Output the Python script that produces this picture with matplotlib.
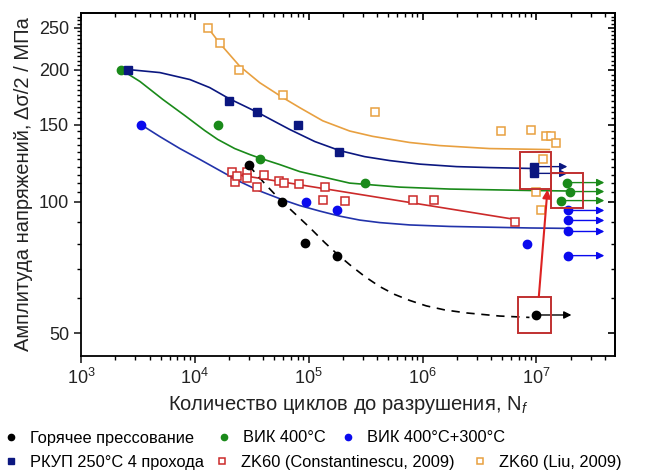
import matplotlib
matplotlib.use('Agg')
import matplotlib.pyplot as plt
from matplotlib.lines import Line2D
from matplotlib.patches import Rectangle
from matplotlib.ticker import FixedLocator, LogLocator, NullFormatter, FixedFormatter

plt.rcParams['font.family'] = ['Liberation Sans', 'DejaVu Sans']
plt.rcParams['mathtext.fontset'] = 'custom'
plt.rcParams['mathtext.rm'] = 'Liberation Sans'
plt.rcParams['mathtext.it'] = 'Liberation Sans:italic'
plt.rcParams['mathtext.sf'] = 'Liberation Sans'

# --- experimental points (cycles to failure, stress amplitude MPa) ---
hot_N = [2.96e4, 5.8e4, 9.2e4, 1.76e5]
hot_S = [121, 100, 80.5, 75.2]
hot_run_N = [1.0e7]
hot_run_S = [55]

vik_N = [2.24e3, 1.6e4, 3.7e4, 3.1e5]
vik_S = [200, 150, 125.4, 110.5]
vik_run_N = [1.87e7, 1.99e7, 1.66e7]
vik_run_S = [110.5, 105.4, 100.5]

vik300_N = [3.4e3, 9.5e4, 1.76e5, 8.3e6]
vik300_S = [150, 100, 95.4, 80.1]
vik300_run_N = [1.9e7, 1.9e7, 1.9e7, 1.9e7]
vik300_run_S = [95.4, 90.5, 85.4, 75.2]

ecap_N = [2.6e3, 2.0e4, 3.5e4, 8.0e4, 1.83e5]
ecap_S = [200, 170, 160.7, 150, 130]
ecap_run_N = [9.6e6, 9.6e6]
ecap_run_S = [120.2, 116]

const_N = [2.1e4, 2.25e4, 2.33e4, 2.86e4, 2.86e4, 3.5e4, 4.03e4, 5.46e4,
           6.03e4, 8.3e4, 1.38e5, 1.33e5, 2.07e5, 8.2e5, 1.25e6, 6.5e6]
const_S = [117, 111, 114.7, 117, 113.5, 108.2, 115.3, 111.7,
           110.5, 109.9, 108.2, 101, 100.5, 101, 101, 90]

liu_N = [1.3e4, 1.66e4, 2.43e4, 5.9e4, 3.8e5, 4.93e6, 9.04e6, 1.22e7,
         1.33e7, 1.5e7, 1.15e7, 1.0e7, 1.1e7]
liu_S = [250, 230, 200, 175, 160, 145, 146, 141,
         141, 136, 125, 105.4, 95.4]

# --- fitted curves ---
hot_fit_N = [2.98e4, 4.11e4, 5.57e4, 7.54e4, 1.02e5, 1.38e5, 1.76e5, 2.29e5, 3.10e5,
             4.20e5, 5.68e5, 7.69e5, 1.08e6, 1.56e6, 2.43e6, 4.74e6, 8.69e6]
hot_fit_S = [120.9, 109.9, 101.1, 93.9, 87.2, 80.6, 76.0, 71.7, 67.4,
             63.9, 61.3, 59.4, 57.7, 56.5, 55.6, 54.7, 54.3]

vik_fit_N = [2.24e3, 3.30e3, 5.24e3, 8.17e3, 1.22e4, 1.59e4, 2.24e4, 3.04e4, 3.72e4,
             5.57e4, 8.34e4, 1.53e5, 2.29e5, 6.28e5, 1.73e6, 8.69e6, 1.95e7]
vik_fit_S = [200.5, 188.2, 171.2, 157.3, 145.4, 138.7, 132.2, 128.1, 125.7,
             121.5, 117.1, 112.9, 110.2, 107.9, 106.8, 106.0, 105.7]

vik300_fit_N = [3.36e3, 4.93e3, 7.39e3, 1.11e4, 1.66e4, 2.48e4, 3.72e4, 5.80e4, 8.34e4,
                1.25e5, 1.87e5, 2.80e5, 4.20e5, 7.69e5, 1.73e6, 8.69e6, 1.95e7]
vik300_fit_S = [150.0, 140.8, 132.2, 124.8, 117.7, 111.1, 105.7, 101.1, 97.9,
                95.1, 92.6, 90.7, 89.5, 88.4, 87.7, 87.0, 86.8]

ecap_fit_N = [2.58e3, 4.93e3, 9.04e3, 1.35e4, 1.99e4, 3.57e4, 5.04e4, 6.81e4,
              1.13e5, 1.87e5, 3.10e5, 5.14e5, 9.42e5, 1.99e6, 3.87e6, 9.6e6]
ecap_fit_S = [200.5, 197.3, 190.2, 182.3, 172.1, 159.9, 152.4, 146.2,
              137.2, 130.8, 126.7, 124.1, 121.8, 120.2, 119.6, 119.0]

const_fit_N = [2.0e4, 6.5e6]
const_fit_S = [116, 91]

liu_fit_N = [1.30e4, 1.66e4, 2.48e4, 3.72e4, 5.91e4, 8.34e4, 1.33e5, 2.29e5,
             3.64e5, 7.69e5, 1.41e6, 3.87e6, 1.30e7]
liu_fit_S = [250, 230, 204, 187, 173, 164, 153, 145,
             141, 136.5, 134.3, 132.2, 131.5]

# highlighted regions: (N_min, N_max, S_min, S_max)
boxes = [(7.2e6, 1.35e7, 107.1, 129.5),
         (1.35e7, 2.57e7, 96.4, 116.5),
         (6.9e6, 1.35e7, 50.1, 60.6)]

c_hot = 'black'
c_vik = '#1a8a1a'
c_vik300 = '#0a0aee'
c_vik300_line = '#2233aa'
c_ecap = '#0b1780'
c_const = '#cc2a2a'
c_liu = '#e8a040'
c_box = '#c03030'

fig = plt.figure(figsize=(6.51, 4.76), dpi=100)
ax = fig.add_axes([0.1244, 0.252, 0.8203, 0.7206])
ax.set_xscale('log')
ax.set_yscale('log')

ms = 5.5
ax.plot(liu_fit_N, liu_fit_S, color=c_liu, lw=1.2, zorder=2)
ax.plot(ecap_fit_N, ecap_fit_S, color=c_ecap, lw=1.2, zorder=2)
ax.plot(vik_fit_N, vik_fit_S, color=c_vik, lw=1.2, zorder=2)
ax.plot(const_fit_N, const_fit_S, color=c_const, lw=1.2, zorder=2)
ax.plot(vik300_fit_N, vik300_fit_S, color=c_vik300_line, lw=1.2, zorder=2)
ax.plot(hot_fit_N, hot_fit_S, color=c_hot, lw=1.2, ls=(0, (5, 4)), zorder=2)

ax.plot(liu_N, liu_S, 's', mfc='white', mec=c_liu, mew=1.1, ms=ms, ls='none', zorder=3)
ax.plot(const_N, const_S, 's', mfc='white', mec=c_const, mew=1.1, ms=ms, ls='none', zorder=3)
ax.plot(hot_N + hot_run_N, hot_S + hot_run_S, 'o', color=c_hot, ms=ms + 0.5, ls='none', zorder=4)
ax.plot(vik_N + vik_run_N, vik_S + vik_run_S, 'o', color=c_vik, ms=ms + 0.5, ls='none', zorder=4)
ax.plot(vik300_N + vik300_run_N, vik300_S + vik300_run_S, 'o', color=c_vik300, ms=ms + 0.5, ls='none', zorder=4)
ax.plot(ecap_N + ecap_run_N, ecap_S + ecap_run_S, 's', color=c_ecap, ms=ms, ls='none', zorder=4)


# run-out arrows
def runouts(Ns, Ss, end_N, color):
    for n, s in zip(Ns, Ss):
        ax.annotate('', xy=(end_N, s), xytext=(n, s),
                    arrowprops=dict(arrowstyle='-|>', color=color, lw=1.0,
                                    mutation_scale=11, shrinkA=0, shrinkB=0),
                    zorder=3)


runouts(hot_run_N, hot_run_S, 2.03e7, c_hot)
runouts(vik_run_N, vik_run_S, 3.95e7, c_vik)
runouts(vik300_run_N, vik300_run_S, 3.95e7, c_vik300)
runouts(ecap_run_N, ecap_run_S, 1.87e7, c_ecap)

for x0, x1, y0, y1 in boxes:
    ax.add_patch(Rectangle((x0, y0), x1 - x0, y1 - y0, fill=False,
                           ec=c_box, lw=1.4, zorder=5))
ax.annotate('', xy=(1.25e7, 106.5), xytext=(1.05e7, 60.6),
            arrowprops=dict(arrowstyle='-|>', color='#dd2222', lw=1.5,
                            mutation_scale=12, shrinkA=0, shrinkB=0),
            zorder=6)

ax.set_xlim(1e3, 4.9e7)
ax.set_ylim(44.3, 270)

y_major = [50, 100, 150, 200, 250]
y_minor = [60, 70, 80, 90] + [v for v in range(105, 270, 5) if v not in y_major]
ax.yaxis.set_major_locator(FixedLocator(y_major))
ax.yaxis.set_major_formatter(FixedFormatter([str(v) for v in y_major]))
ax.yaxis.set_minor_locator(FixedLocator(y_minor))
ax.yaxis.set_minor_formatter(NullFormatter())
ax.xaxis.set_major_locator(LogLocator(base=10, numticks=20))
ax.xaxis.set_minor_locator(LogLocator(base=10, subs=range(2, 10), numticks=20))
ax.xaxis.set_minor_formatter(NullFormatter())

ax.tick_params(which='major', direction='out', length=5, width=1.2, labelsize=13, colors='#222222')
ax.tick_params(which='minor', direction='out', length=3, width=1.0)

secx = ax.secondary_xaxis('top')
secx.xaxis.set_major_locator(LogLocator(base=10, numticks=20))
secx.xaxis.set_minor_locator(LogLocator(base=10, subs=range(2, 10), numticks=20))
secx.tick_params(which='major', direction='in', length=5, width=1.2, labeltop=False)
secx.tick_params(which='minor', direction='in', length=3, width=1.0)
secx.xaxis.set_minor_formatter(NullFormatter())
secy = ax.secondary_yaxis('right')
secy.yaxis.set_major_locator(FixedLocator(y_major))
secy.yaxis.set_minor_locator(FixedLocator(y_minor))
secy.tick_params(which='major', direction='in', length=5, width=1.2, labelright=False)
secy.tick_params(which='minor', direction='in', length=3, width=1.0)
secy.yaxis.set_minor_formatter(NullFormatter())

for sp in list(ax.spines.values()) + list(secx.spines.values()) + list(secy.spines.values()):
    sp.set_linewidth(1.3)

ax.set_xlabel('Количество циклов до разрушения, N$_f$', fontsize=14.5, color='#222222', labelpad=4)
ax.set_ylabel('Амплитуда напряжений, Δσ/2 / МПа', fontsize=14.5, color='#222222', labelpad=4)

# legend entries laid out in two rows below the axes
legend_items = [
    (Line2D([], [], marker='o', color=c_hot, ls='none', ms=4.5), 'Горячее прессование', 11, 438),
    (Line2D([], [], marker='o', color=c_vik, ls='none', ms=4.5), 'ВИК 400°C', 224, 438),
    (Line2D([], [], marker='o', color=c_vik300, ls='none', ms=4.5), 'ВИК 400°C+300°C', 348, 438),
    (Line2D([], [], marker='s', color=c_ecap, ls='none', ms=4.5), 'РКУП 250°C 4 прохода', 11, 462),
    (Line2D([], [], marker='s', mfc='white', mec=c_const, mew=1.1, ls='none', ms=4.5),
     'ZK60 (Constantinescu, 2009)', 222, 462),
    (Line2D([], [], marker='s', mfc='white', mec=c_liu, mew=1.1, ls='none', ms=4.5),
     'ZK60 (Liu, 2009)', 480, 462),
]
fs_leg = 11.8
half_handle = 0.5 * fs_leg * 100 / 72
for handle, label, px, py in legend_items:
    fig.legend([handle], [label], loc='center left',
               bbox_to_anchor=((px - half_handle) / 651, 1 - py / 476),
               frameon=False, fontsize=fs_leg, handlelength=1.0, handletextpad=0.65,
               borderaxespad=0, borderpad=0)

fig.savefig('out.png', dpi=100)
